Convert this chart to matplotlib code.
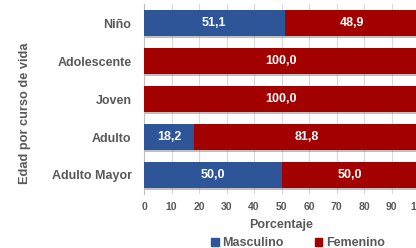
import matplotlib.pyplot as plt
import matplotlib.patheffects as pe
from matplotlib.patches import Patch

plt.rcParams['font.family'] = ['Liberation Sans', 'DejaVu Sans']

categorias = ['Niño', 'Adolescente', 'Joven', 'Adulto', 'Adulto Mayor']
masculino = [51.1, 0.0, 0.0, 18.2, 50.0]
femenino = [48.9, 100.0, 100.0, 81.8, 50.0]

azul = '#2E5597'
rojo = '#A30000'
gris = '#595959'

fig = plt.figure(figsize=(4.16, 2.48), dpi=100)
ax = fig.add_axes([144 / 416, 54 / 248, 275 / 416, 190 / 248])

y = list(range(len(categorias)))
sombra = [pe.SimplePatchShadow(offset=(0.8, -1.5), shadow_rgbFace='#808080', alpha=0.5), pe.Normal()]
b1 = ax.barh(y, masculino, height=0.7, color=azul, zorder=3, path_effects=sombra)
b2 = ax.barh(y, femenino, left=masculino, height=0.7, color=rojo, zorder=3, path_effects=sombra)

for i in y:
    if masculino[i] > 0:
        ax.text(masculino[i] / 2, i, f'{masculino[i]:.1f}'.replace('.', ','),
                ha='center', va='center', color='white', fontsize=9, fontweight='bold', zorder=4)
    ax.text(masculino[i] + femenino[i] / 2, i, f'{femenino[i]:.1f}'.replace('.', ','),
            ha='center', va='center', color='white', fontsize=9, fontweight='bold', zorder=4)

ax.set_xlim(0, 100)
ax.set_ylim(len(categorias) - 0.5, -0.5)
ax.set_xticks(range(0, 101, 10))
ax.set_yticks(y)
ax.set_yticklabels(categorias)
ax.tick_params(axis='y', length=0, pad=9, labelsize=9, labelcolor=gris)
ax.tick_params(axis='x', length=0, pad=6, labelsize=7.5, labelcolor=gris)
for lab in ax.get_yticklabels() + ax.get_xticklabels():
    lab.set_fontweight('bold')

ax.grid(axis='x', color='#D9D9D9', linewidth=0.8, zorder=0)
for s in ['top', 'right', 'bottom']:
    ax.spines[s].set_visible(False)
ax.spines['left'].set_color('#BFBFBF')

ax.set_xlabel('Porcentaje', fontsize=9, fontweight='bold', color=gris, labelpad=5)
fig.text(25 / 416, 1 - 113 / 248, 'Edad por curso de vida', rotation=90, ha='center', va='center',
         fontsize=9.2, fontweight='bold', color=gris)

handles = [Patch(color=azul, label='Masculino'), Patch(color=rojo, label='Femenino')]
fig.legend(handles=handles, loc='center', bbox_to_anchor=(298 / 416, 1 - 243 / 248), ncol=2,
           frameon=False, handlelength=0.6, handleheight=0.6, handletextpad=0.3,
           columnspacing=2.5, labelcolor=gris, prop={'weight': 'bold', 'size': 9})

fig.savefig('out.png', dpi=100)
